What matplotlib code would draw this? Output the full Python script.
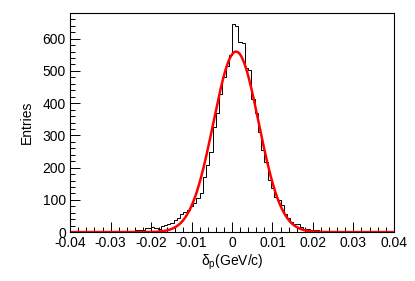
import matplotlib
matplotlib.use('Agg')
import matplotlib.pyplot as plt
from matplotlib.ticker import MultipleLocator
import numpy as np

plt.rcParams['font.family'] = ['Liberation Sans', 'DejaVu Sans']
plt.rcParams['mathtext.fontset'] = 'custom'
plt.rcParams['mathtext.rm'] = 'Liberation Sans'
plt.rcParams['mathtext.it'] = 'Liberation Sans'

# histogram: 100 bins from -0.04 to 0.04
x_min, x_max, n_bins = -0.04, 0.04, 100
counts = [0, 1, 0, 1, 1, 0, 1, 1, 0, 2,
          1, 1, 2, 1, 2, 2, 1, 3, 2, 4,
          5, 6, 7, 12, 14, 16, 12, 11, 18, 22,
          25, 28, 37, 45, 55, 62, 70, 80, 90, 105,
          121, 171, 208, 250, 326, 370, 430, 480, 515, 550,
          646, 640, 590, 587, 509, 503, 413, 370, 311, 255,
          217, 161, 137, 109, 100, 84, 55, 43, 30, 24,
          26, 16, 10, 9, 8, 6, 5, 3, 3, 2,
          2, 1, 1, 2, 1, 0, 1, 1, 0, 1,
          0, 1, 0, 0, 1, 0, 0, 1, 0, 0]

# gaussian fit parameters
fit_const = 560.0
fit_mean = 0.001
fit_sigma = 0.0056

edges = np.linspace(x_min, x_max, n_bins + 1)

fig = plt.figure(figsize=(4.15, 2.81), dpi=100)
ax = fig.add_axes([0.169, 0.174, 0.780, 0.780])

ax.stairs(counts, edges, color='black', lw=0.7)

xf = np.linspace(x_min, x_max, 800)
yf = fit_const * np.exp(-0.5 * ((xf - fit_mean) / fit_sigma) ** 2)
ax.plot(xf, yf, color='red', lw=1.8)

ax.set_xlim(x_min, x_max)
ax.set_ylim(0, 680)

ax.xaxis.set_major_locator(MultipleLocator(0.01))
ax.xaxis.set_minor_locator(MultipleLocator(0.002))
ax.yaxis.set_major_locator(MultipleLocator(100))
ax.yaxis.set_minor_locator(MultipleLocator(20))
ax.xaxis.set_major_formatter(plt.FuncFormatter(lambda v, p: '0' if abs(v) < 1e-9 else '%g' % v))

ax.tick_params(which='both', direction='in', top=False, right=False,
               labelsize=10, colors='black', width=0.7)
ax.tick_params(which='major', length=7, pad=3)
ax.tick_params(which='minor', length=3.5)
for s in ax.spines.values():
    s.set_linewidth(0.8)

ax.set_xlabel('δ$_{\\mathrm{p}}$(GeV/c)', fontsize=10, labelpad=2)
ax.set_ylabel('Entries', fontsize=10, labelpad=6)

fig.savefig('out.png', dpi=100)
plt.close(fig)
